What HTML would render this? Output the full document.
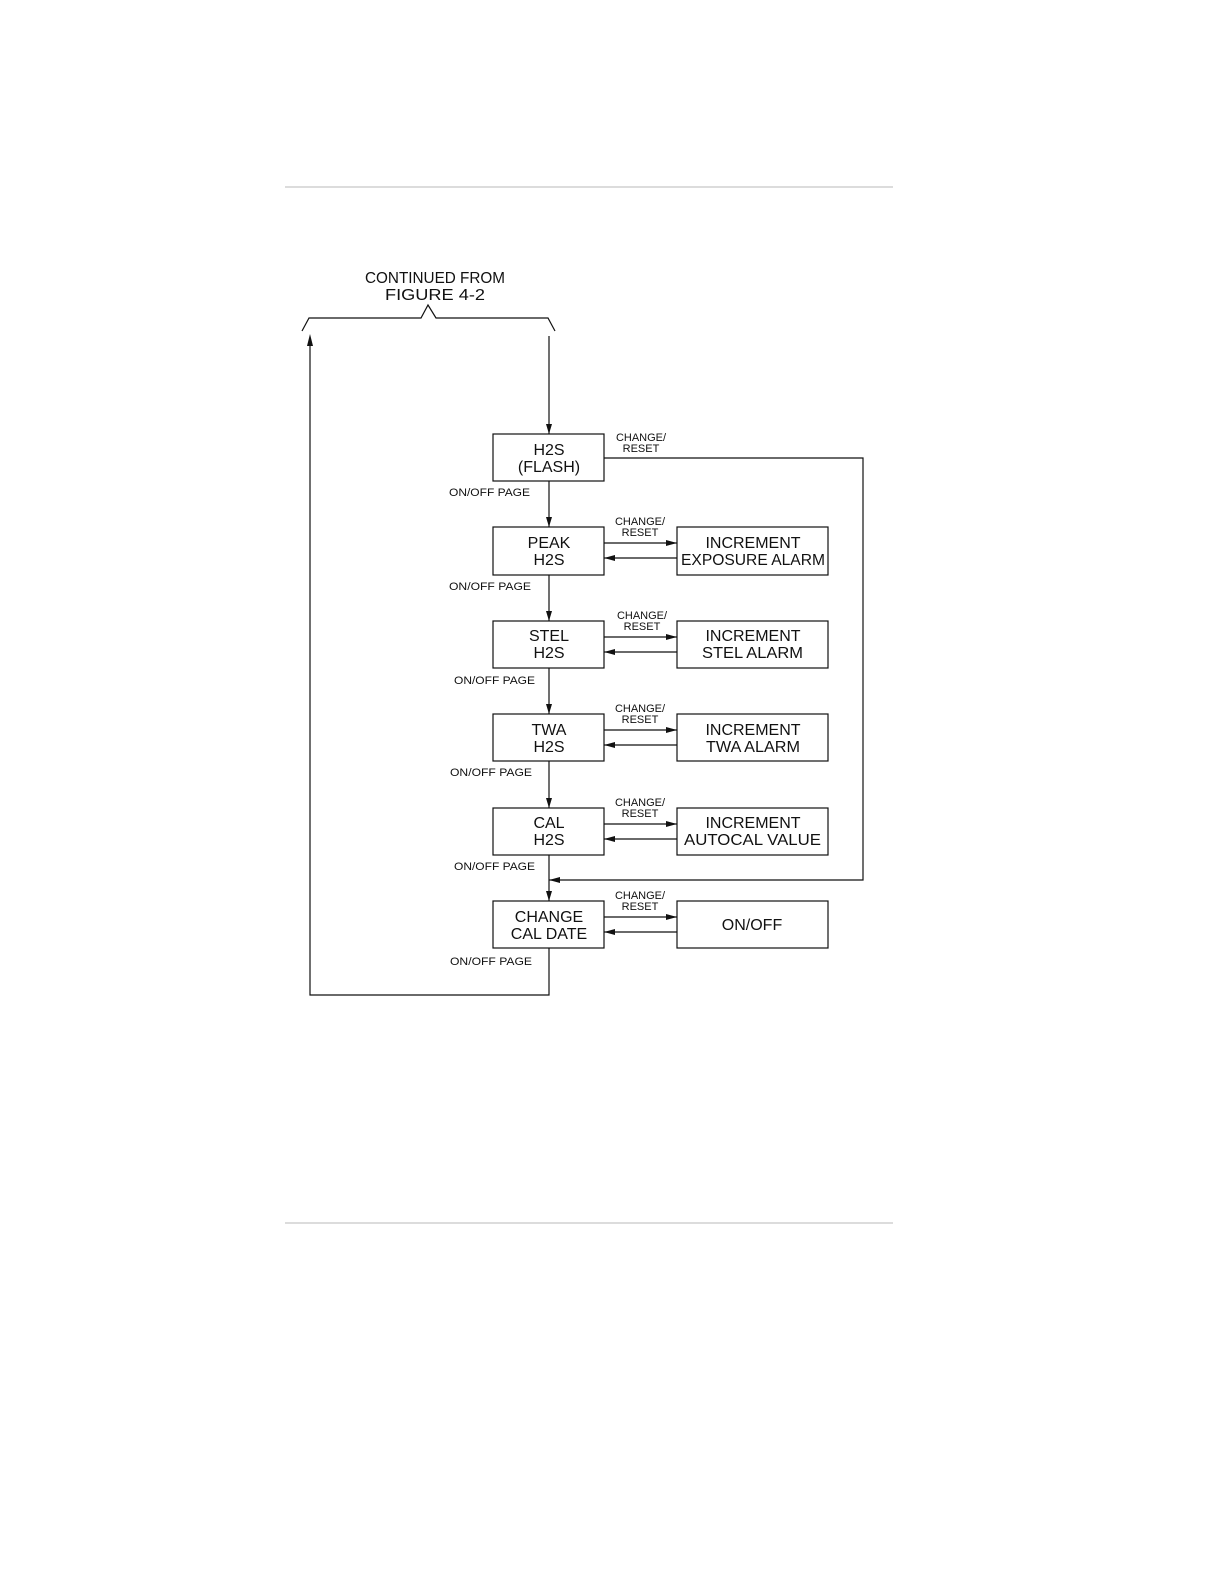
<!DOCTYPE html>
<html><head><meta charset="utf-8"><style>
html,body{margin:0;padding:0;background:#fff;}
svg{display:block;}
text{font-family:"Liberation Sans",sans-serif;fill:#111;}
.b{font-size:16px;}
.s{font-size:11px;}
</style></head><body>
<svg width="1224" height="1584" viewBox="0 0 1224 1584" xmlns="http://www.w3.org/2000/svg">
<rect x="285" y="186" width="608" height="2" fill="#dcdcdc"/>
<rect x="285" y="1222" width="608" height="2" fill="#dcdcdc"/>
<g stroke="#111" stroke-width="1.2" fill="none">
<polyline points="302,331 309,318 421,318 428,305 436,318 548,318 555,331"/>
<line x1="549" y1="336" x2="549" y2="434"/>
<polyline points="549,948 549,995 310,995 310,340"/>
<polyline points="604,458 863,458 863,880 549,880"/>
<line x1="549" y1="481" x2="549" y2="527"/>
<line x1="549" y1="575" x2="549" y2="621"/>
<line x1="549" y1="668" x2="549" y2="714"/>
<line x1="549" y1="761" x2="549" y2="808"/>
<line x1="549" y1="855" x2="549" y2="901"/>
<rect x="493" y="434" width="111" height="47"/>
<rect x="493" y="527" width="111" height="48"/>
<rect x="493" y="621" width="111" height="47"/>
<rect x="493" y="714" width="111" height="47"/>
<rect x="493" y="808" width="111" height="47"/>
<rect x="493" y="901" width="111" height="47"/>
<rect x="677" y="527" width="151" height="48"/>
<rect x="677" y="621" width="151" height="47"/>
<rect x="677" y="714" width="151" height="47"/>
<rect x="677" y="808" width="151" height="47"/>
<rect x="677" y="901" width="151" height="47"/>
<line x1="604" y1="543" x2="677" y2="543"/><line x1="604" y1="558" x2="677" y2="558"/>
<line x1="604" y1="637" x2="677" y2="637"/><line x1="604" y1="652" x2="677" y2="652"/>
<line x1="604" y1="730" x2="677" y2="730"/><line x1="604" y1="745" x2="677" y2="745"/>
<line x1="604" y1="824" x2="677" y2="824"/><line x1="604" y1="839" x2="677" y2="839"/>
<line x1="604" y1="917" x2="677" y2="917"/><line x1="604" y1="932" x2="677" y2="932"/>
</g>
<g fill="#111">
<polygon points="310,334 307,346 313,346"/>
<polygon points="549,434 546,424 552,424"/>
<polygon points="549,527 546,517 552,517"/>
<polygon points="549,621 546,611 552,611"/>
<polygon points="549,714 546,704 552,704"/>
<polygon points="549,808 546,798 552,798"/>
<polygon points="549,901 546,891 552,891"/>
<polygon points="549,880 560,877 560,883"/>
<polygon points="677,543 666,540 666,546"/><polygon points="604,558 615,555 615,561"/>
<polygon points="677,637 666,634 666,640"/><polygon points="604,652 615,649 615,655"/>
<polygon points="677,730 666,727 666,733"/><polygon points="604,745 615,742 615,748"/>
<polygon points="677,824 666,821 666,827"/><polygon points="604,839 615,836 615,842"/>
<polygon points="677,917 666,914 666,920"/><polygon points="604,932 615,929 615,935"/>
</g>
<text class="b" x="365" y="283" textLength="140" lengthAdjust="spacingAndGlyphs">CONTINUED FROM</text>
<text class="b" x="385" y="300" textLength="100" lengthAdjust="spacingAndGlyphs">FIGURE 4-2</text>
<g class="b" text-anchor="middle">
<text x="549" y="455">H2S</text><text x="549" y="472">(FLASH)</text>
<text x="549" y="548">PEAK</text><text x="549" y="565">H2S</text>
<text x="549" y="641">STEL</text><text x="549" y="658">H2S</text>
<text x="549" y="735">TWA</text><text x="549" y="752">H2S</text>
<text x="549" y="828">CAL</text><text x="549" y="845">H2S</text>
<text x="549" y="922">CHANGE</text><text x="549" y="939">CAL DATE</text>
<text x="753" y="548">INCREMENT</text>
<text x="753" y="641">INCREMENT</text>
<text x="753" y="735">INCREMENT</text>
<text x="753" y="828">INCREMENT</text>
<text x="752" y="930">ON/OFF</text>
</g>
<text class="b" x="681" y="565" textLength="144" lengthAdjust="spacingAndGlyphs">EXPOSURE ALARM</text>
<text class="b" x="702" y="658" textLength="101" lengthAdjust="spacingAndGlyphs">STEL ALARM</text>
<text class="b" x="706" y="752" textLength="94" lengthAdjust="spacingAndGlyphs">TWA ALARM</text>
<text class="b" x="684" y="845" textLength="137" lengthAdjust="spacingAndGlyphs">AUTOCAL VALUE</text>
<g class="s">
<text x="449" y="496" textLength="81" lengthAdjust="spacingAndGlyphs">ON/OFF PAGE</text>
<text x="449" y="590" textLength="82" lengthAdjust="spacingAndGlyphs">ON/OFF PAGE</text>
<text x="454" y="684" textLength="81" lengthAdjust="spacingAndGlyphs">ON/OFF PAGE</text>
<text x="450" y="776" textLength="82" lengthAdjust="spacingAndGlyphs">ON/OFF PAGE</text>
<text x="454" y="870" textLength="81" lengthAdjust="spacingAndGlyphs">ON/OFF PAGE</text>
<text x="450" y="965" textLength="82" lengthAdjust="spacingAndGlyphs">ON/OFF PAGE</text>
</g>
<g class="s" text-anchor="middle">
<text x="641" y="441">CHANGE/</text><text x="641" y="452">RESET</text>
<text x="640" y="525">CHANGE/</text><text x="640" y="536">RESET</text>
<text x="642" y="619">CHANGE/</text><text x="642" y="630">RESET</text>
<text x="640" y="712">CHANGE/</text><text x="640" y="723">RESET</text>
<text x="640" y="806">CHANGE/</text><text x="640" y="817">RESET</text>
<text x="640" y="899">CHANGE/</text><text x="640" y="910">RESET</text>
</g>
</svg>
</body></html>
